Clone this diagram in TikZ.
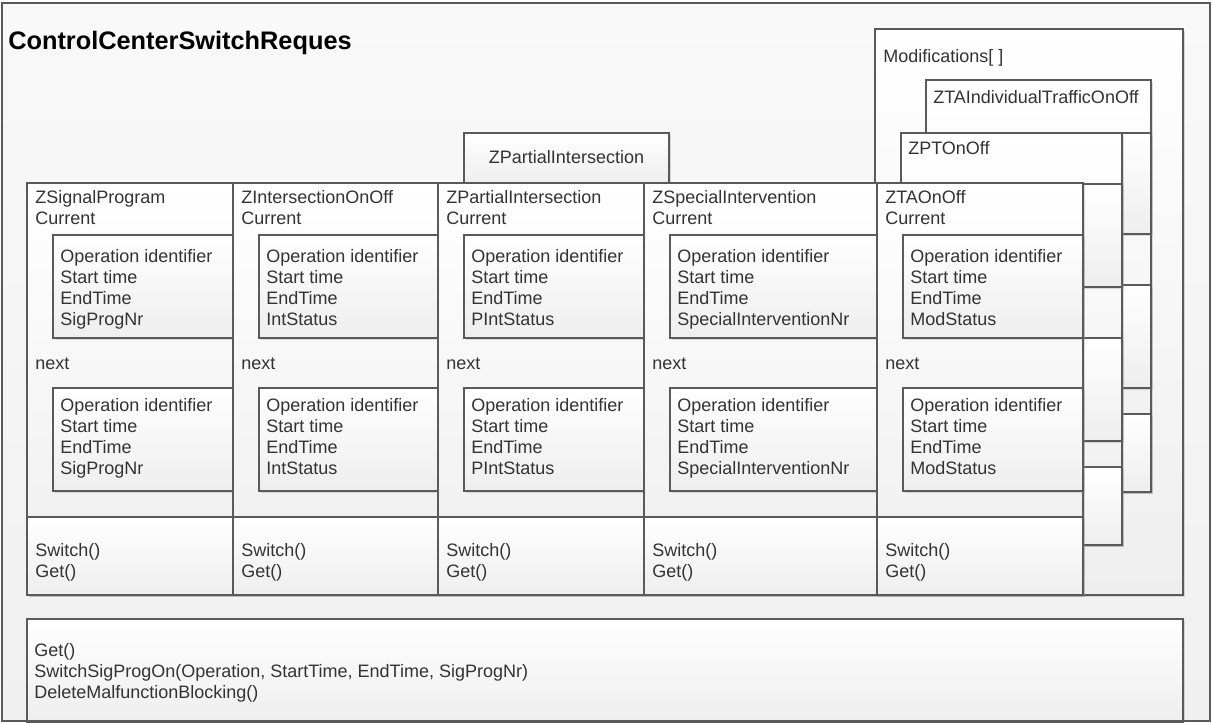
\documentclass[tikz,border=0pt]{standalone}
\usepackage{fontspec}
\setmainfont{Liberation Sans}
\usetikzlibrary{shadows}
\definecolor{edge}{HTML}{5A5A5A}
\definecolor{txt}{HTML}{333333}
\definecolor{shadeb}{HTML}{EEEEEE}
\definecolor{bgtop}{HTML}{F9F9F9}
\definecolor{bgbot}{HTML}{F0F0F0}
\tikzset{
  x=0.75pt, y=-0.75pt,
  boxst/.style={draw=edge, line width=1.1pt, top color=white, bottom color=shadeb,
    inner sep=0pt, outer sep=0pt,
    drop shadow={shadow xshift=1.5pt, shadow yshift=-1.5pt, opacity=.3, fill=black!45}},
  framest/.style={draw=edge, line width=1.2pt, top color=bgtop, bottom color=bgbot,
    inner sep=0pt, outer sep=0pt},
  borderst/.style={draw=edge, line width=1.2pt, inner sep=0pt, outer sep=0pt},
  lbl/.style={anchor=base west, inner sep=0pt, text=txt,
    font=\fontsize{13.5pt}{15.75pt}\selectfont},
  ttl/.style={anchor=base west, inner sep=0pt, text=black,
    font=\bfseries\fontsize{19pt}{22pt}\selectfont},
}
\newcommand\ubox[6][boxst]{\node[#1,anchor=north west,minimum width={((#5)-(#3))*0.75pt},minimum height={((#6)-(#4))*0.75pt}] (#2) at (#3,#4) {};}
\newcommand\mylines[1]{\begin{tabular}[t]{@{}l@{}}#1\end{tabular}}
\begin{document}
\begin{tikzpicture}
\useasboundingbox (0,0) rectangle (1212,723);
% outer frame
\ubox[framest]{frame}{2}{3}{1210}{721}
\node[ttl] (title) at (8,50) {ControlCenterSwitchReques};
% Modifications container
\ubox{mods}{875}{29}{1183}{595}
\node[lbl] (modst) at (883,63) {Modifications[ ]};
% ZTAIndividualTrafficOnOff (stacked behind)
\ubox{zi}{926}{80}{1151}{492}
\node[lbl] (zit) at (933,104) {ZTAIndividualTrafficOnOff};
\ubox{zi-a}{952}{133}{1151}{234}
\ubox{zi-b}{952}{285}{1151}{388}
\ubox{zi-m}{926}{414}{1151}{492}
% ZPTOnOff (stacked behind)
\ubox{zp}{901}{133}{1122}{545}
\node[lbl] (zpt) at (908,155) {ZPTOnOff};
\ubox{zp-a}{927}{184}{1122}{287}
\ubox{zp-b}{927}{338}{1122}{441}
\ubox{zp-m}{901}{467}{1122}{545}
% ZPartialIntersection tab
\ubox{pitab}{464}{133}{669}{183}
\node[lbl, anchor=base] (pitabt) at (566.5,164) {ZPartialIntersection};
% columns
\foreach \xa/\xb/\nm/\attr/\id in {
  27/233/ZSignalProgram/SigProgNr/ca,
  233/438/ZIntersectionOnOff/IntStatus/cb,
  438/644/ZPartialIntersection/PIntStatus/cc,
  644/877/ZSpecialIntervention/SpecialInterventionNr/cd,
  877/1083/ZTAOnOff/ModStatus/ce}{
  \ubox{\id}{\xa}{183}{\xb}{595}
  \node[lbl] (\id-h) at (\xa+8,204) {\mylines{\nm\\Current}};
  \ubox{\id-a}{\xa+26}{235}{\xb}{338}
  \node[lbl] (\id-at) at (\xa+33,263) {\mylines{Operation identifier\\Start time\\EndTime\\\attr}};
  \node[lbl] (\id-n) at (\xa+8,369) {next};
  \ubox{\id-b}{\xa+26}{388}{\xb}{491}
  \node[lbl] (\id-bt) at (\xa+33,411) {\mylines{Operation identifier\\Start time\\EndTime\\\attr}};
  \ubox{\id-m}{\xa}{517}{\xb}{595}
  \node[lbl] (\id-mt) at (\xa+8,556) {\mylines{Switch()\\Get()}};
}
% bottom operations box
\ubox{ops}{27}{619}{1183}{723}
\node[lbl] (opst) at (34,656) {\mylines{Get()\\SwitchSigProgOn(Operation, StartTime, EndTime, SigProgNr)\\DeleteMalfunctionBlocking()}};
% frame border on top
\ubox[borderst]{frameb}{2}{3}{1210}{721}
\end{tikzpicture}
\end{document}
